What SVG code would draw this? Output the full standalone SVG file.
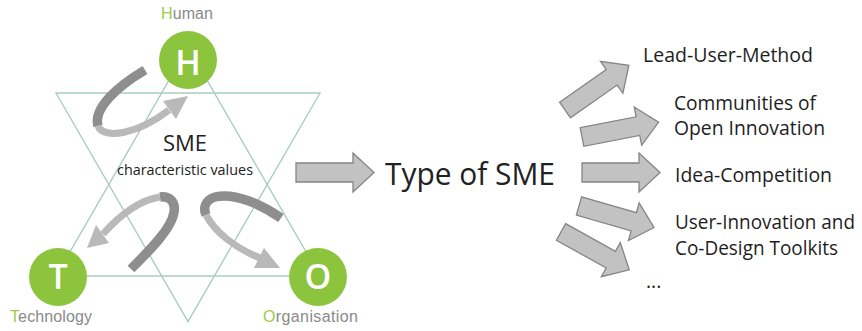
<svg xmlns="http://www.w3.org/2000/svg" width="862" height="331" viewBox="0 0 862 331">
  <defs>
    <style>
      .tri { fill: none; stroke: #a9cdc3; stroke-width: 1.4; }
      .node circle { fill: #8cc43e; }
      .letter { font-family: "Open Sans", "Liberation Sans", sans-serif; font-size: 34px; font-weight: 600; fill: #ffffff; text-anchor: middle; }
      .label { font-family: "Liberation Sans", Arial, sans-serif; font-size: 16px; fill: #8a8a8a; }
      .label tspan.init { fill: #9acb4a; }
      .dark { fill: none; stroke: #8e8e8e; stroke-width: 9.5; }
      .light { fill: none; stroke: #b9b9b9; stroke-width: 7; }
      .head { fill: #b9b9b9; }
      .block { fill: #c2c2c2; stroke: #858585; stroke-width: 1.3; stroke-linejoin: miter; }
      .core { font-family: "Open Sans", "Liberation Sans", sans-serif; fill: #222222; text-anchor: middle; }
      .item { font-family: "Open Sans", "Liberation Sans", sans-serif; font-size: 19.5px; fill: #1e1e1e; }
    </style>
    <!-- straight block arrow, tail centre at origin, pointing along +x -->
    <path id="block" class="block" d="M0,-9.5 H57 V-19.5 L78,0 L57,19.5 V9.5 H0 Z"/>
  </defs>

  <rect width="862" height="331" fill="#ffffff"/>

  <!-- two overlapping triangles -->
  <g id="triangles">
    <polygon class="tri" points="56,276 320,276 188,47.4"/>
    <polygon class="tri" points="56,93 320,93 188,321.6"/>
  </g>

  <!-- curved cycle arrows between the three poles -->
  <g id="cycle-arrows">
    <path class="dark" d="M145,70 C118,86 93,108 98,126"/>
    <path class="light" d="M98,126 C104,140 138,134 169,110"/>
    <polygon class="head" points="188,96 163,101 176,119"/>

    <path class="dark" d="M131,269 C150,250 172,228 174,212 C176,200 168,196 160,197"/>
    <path class="light" d="M160,197 C140,200 120,215 103,234"/>
    <polygon class="head" points="87,248 109,243 96,225"/>

    <path class="dark" d="M281,218 C262,205 235,192 215,197 C205,200 203,208 206,215"/>
    <path class="light" d="M206,215 C215,232 235,248 260,258"/>
    <polygon class="head" points="280,268 254,268 264,248"/>
  </g>

  <!-- poles -->
  <g id="node-human" class="node">
    <circle cx="188" cy="60" r="29"/>
    <text class="letter" x="188" y="74.5">H</text>
    <text class="label" x="187" y="19" text-anchor="middle" textLength="52"><tspan class="init">H</tspan>uman</text>
  </g>
  <g id="node-technology" class="node">
    <circle cx="58" cy="277" r="29"/>
    <text class="letter" x="58" y="289">T</text>
    <text class="label" x="10" y="322" textLength="82"><tspan class="init">T</tspan>echnology</text>
  </g>
  <g id="node-organisation" class="node">
    <circle cx="318" cy="277" r="29"/>
    <text class="letter" x="318" y="289">O</text>
    <text class="label" x="263" y="322" textLength="95"><tspan class="init">O</tspan>rganisation</text>
  </g>

  <g id="node-sme">
    <text class="core" x="185" y="151" font-size="22px" textLength="44" lengthAdjust="spacingAndGlyphs">SME</text>
    <text class="core" x="185" y="175" font-size="14.5px" textLength="136" lengthAdjust="spacingAndGlyphs">characteristic values</text>
  </g>

  <g id="node-type">
    <text class="core" x="470" y="185" font-size="31px" fill="#111111" textLength="170" lengthAdjust="spacingAndGlyphs">Type of SME</text>
  </g>

  <!-- block arrows -->
  <g id="connectors">
    <use href="#block" transform="translate(296,172.5)"/>
    <use href="#block" transform="translate(565,110) rotate(-35)"/>
    <use href="#block" transform="translate(582,137) rotate(-11)"/>
    <use href="#block" transform="translate(582,172.5)"/>
    <use href="#block" transform="translate(579,206) rotate(16)"/>
    <use href="#block" transform="translate(561,232) rotate(29)"/>
  </g>

  <!-- kinds of open innovation -->
  <g id="node-lead-user">
    <text class="item" x="643" y="61.5" textLength="170" lengthAdjust="spacingAndGlyphs">Lead-User-Method</text>
  </g>
  <g id="node-communities">
    <text class="item" x="674" y="110" textLength="142" lengthAdjust="spacingAndGlyphs">Communities of</text>
    <text class="item" x="674" y="135" textLength="151" lengthAdjust="spacingAndGlyphs">Open Innovation</text>
  </g>
  <g id="node-idea">
    <text class="item" x="675" y="181.5" textLength="157" lengthAdjust="spacingAndGlyphs">Idea-Competition</text>
  </g>
  <g id="node-toolkits">
    <text class="item" x="675" y="229" textLength="180" lengthAdjust="spacingAndGlyphs">User-Innovation and</text>
    <text class="item" x="675" y="255" textLength="163" lengthAdjust="spacingAndGlyphs">Co-Design Toolkits</text>
  </g>
  <g id="node-more">
    <text class="item" x="646" y="288" font-size="15px">...</text>
  </g>
</svg>
